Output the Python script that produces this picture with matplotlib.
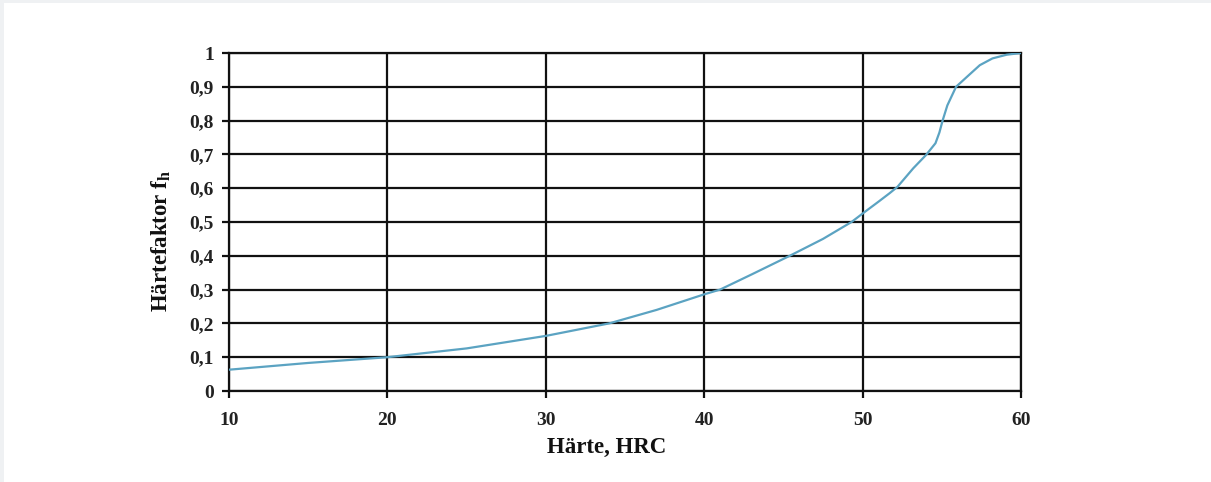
import matplotlib
matplotlib.use("Agg")
import matplotlib.pyplot as plt

# * Data
haerte = [10, 15, 20, 25, 30, 34, 37, 40, 41, 43, 45.4, 47.5, 49.3, 50,
          51, 51.7, 52.2, 53.2, 54, 54.6, 54.85, 55.05, 55.35, 55.9, 56.6, 57.4, 58.2, 59.1, 60]
faktor = [0.063, 0.083, 0.10, 0.126, 0.163, 0.20, 0.24, 0.286, 0.30, 0.345, 0.40, 0.45, 0.50, 0.525,
          0.56, 0.585, 0.604, 0.659, 0.698, 0.733, 0.765, 0.80, 0.845, 0.90, 0.93, 0.964, 0.984, 0.995, 1.0]

x_ticks = [10, 20, 30, 40, 50, 60]
y_ticks = [0, 0.1, 0.2, 0.3, 0.4, 0.5, 0.6, 0.7, 0.8, 0.9, 1.0]
y_labels = ["0", "0,1", "0,2", "0,3", "0,4", "0,5", "0,6", "0,7", "0,8", "0,9", "1"]

# * Style
plt.rcParams["font.family"] = ["Liberation Serif", "DejaVu Serif"]
plt.rcParams["font.weight"] = "bold"
plt.rcParams["mathtext.fontset"] = "custom"
plt.rcParams["mathtext.rm"] = "Liberation Serif:bold"
plt.rcParams["mathtext.it"] = "Liberation Serif:bold"

fig = plt.figure(figsize=(12.11, 4.82), dpi=100)
# light grey frame at the top and left edge
fig.patches.append(plt.Rectangle((0, 0), 1, 1, transform=fig.transFigure,
                                 facecolor="#eff1f3", edgecolor="none", zorder=-2))
fig.patches.append(plt.Rectangle((4 / 1211, 0), 1, 1 - 3 / 482, transform=fig.transFigure,
                                 facecolor="white", edgecolor="none", zorder=-1))

ax = fig.add_axes([229 / 1211, 1 - 391 / 482, (1021 - 229) / 1211, (391 - 53) / 482])
ax.set_facecolor("white")

ax.plot(haerte, faktor, color="#5ba3c2", lw=1.6, zorder=3,
        solid_capstyle="round", solid_joinstyle="round")

ax.set_xlim(10, 60)
ax.set_ylim(0, 1)
ax.set_xticks(x_ticks)
ax.set_yticks(y_ticks)
ax.set_yticklabels(y_labels)
ax.grid(True, color="#111111", lw=1.6)
ax.set_axisbelow(True)
for s in ax.spines.values():
    s.set_color("#111111")
    s.set_linewidth(1.6)
ax.tick_params(direction="out", length=5, width=1.6, color="#111111",
               labelsize=14, labelcolor="#222222")
ax.tick_params(axis="y", pad=6)
ax.tick_params(axis="x", pad=10)

ax.set_xlabel("Härte, HRC", fontsize=16.5, fontweight="bold", color="#111111")
ax.xaxis.set_label_coords((607 - 229) / (1021 - 229), -0.135)
ax.set_ylabel(r"Härtefaktor f$_{\mathrm{h}}$", fontsize=16.5, fontweight="bold", color="#111111")
ax.yaxis.set_label_coords((173 - 229) / (1021 - 229), (391 - 241) / (391 - 53))

fig.savefig("out.png", dpi=100)
